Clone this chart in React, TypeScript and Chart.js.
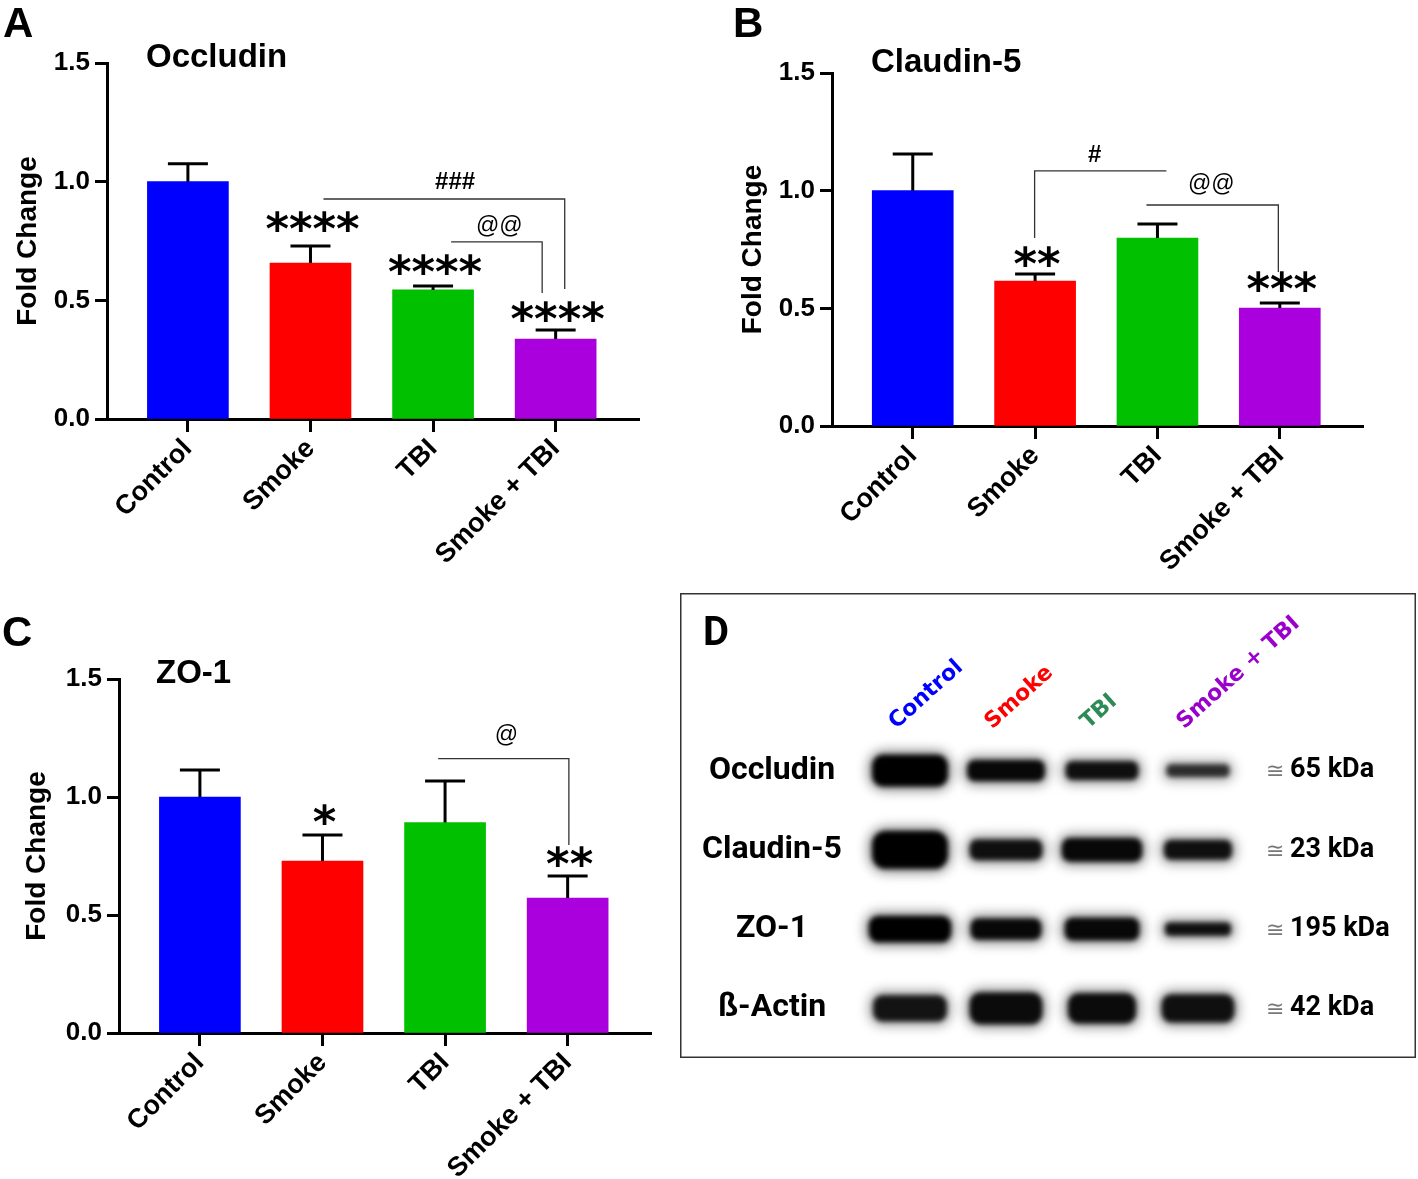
import React, { useEffect, useRef } from 'react';
import { Chart, registerables } from 'chart.js';

Chart.register(...registerables);

const FAMILY = "'Liberation Sans', Arial, sans-serif";

// ---------- shared ----------
const categories = ['Control', 'Smoke', 'TBI', 'Smoke + TBI'];
const barColors = ['#0000FF', '#FF0000', '#00C000', '#AA00DD'];
const yTickValues = [0, 0.5, 1.0, 1.5];

// ---------- Panel A : Occludin ----------
const occludinMean = [1.0, 0.657, 0.544, 0.337];
const occludinSem = [0.075, 0.072, 0.016, 0.038];
const occludinStars = ['', '****', '****', '****'];
const occludinStarLevel = [0, 0.834, 0.649, 0.451];
const occludinBrackets = [
  { text: '###', x1: 1.106, x2: 3.074, y: 0.927, drop1: null, drop2: 0.548, textX: 2.18, textY: 0.999 },
  { text: '@@', x1: 2.147, x2: 2.89, y: 0.746, drop1: null, drop2: 0.531, textX: 2.54, textY: 0.809 },
];

// ---------- Panel B : Claudin-5 ----------
const claudinMean = [1.0, 0.616, 0.799, 0.501];
const claudinSem = [0.156, 0.03, 0.059, 0.022];
const claudinStars = ['', '**', '', '***'];
const claudinStarLevel = [0, 0.722, 0, 0.612];
const claudinBrackets = [
  { text: '#', x1: 0.996, x2: 2.073, y: 1.084, drop1: 0.799, drop2: null, textX: 1.486, textY: 1.152 },
  { text: '@@', x1: 1.91, x2: 2.988, y: 0.939, drop1: null, drop2: 0.654, textX: 2.44, textY: 1.024 },
];

// ---------- Panel C : ZO-1 ----------
const zo1Mean = [1.0, 0.729, 0.892, 0.572];
const zo1Sem = [0.114, 0.11, 0.176, 0.093];
const zo1Stars = ['', '*', '', '**'];
const zo1StarLevel = [0, 0.924, 0, 0.746];
const zo1Brackets = [
  { text: '@', x1: 1.944, x2: 3.01, y: 1.163, drop1: null, drop2: 0.797, textX: 2.5, textY: 1.258 },
];

// ---------- Panel D : western blot ----------
const blotLanes = ['Control', 'Smoke', 'TBI', 'Smoke + TBI'];
const blotLaneColors = ['#0000FF', '#FF0000', '#2E8B57', '#9900CC'];
const blotRows = ['Occludin', 'Claudin-5', 'ZO-1', 'ß-Actin'];
const blotSizes = ['65 kDa', '23 kDa', '195 kDa', '42 kDa'];
const bandWidths = [
  [0.87, 0.89, 0.84, 0.74],
  [0.87, 0.84, 0.92, 0.79],
  [0.94, 0.82, 0.86, 0.77],
  [0.85, 0.84, 0.79, 0.84],
];
const bandHeights = [
  [0.5, 0.37, 0.34, 0.26],
  [0.58, 0.36, 0.4, 0.35],
  [0.43, 0.37, 0.39, 0.27],
  [0.43, 0.5, 0.48, 0.46],
];
const bandIntensity = [
  [1.0, 0.95, 0.9, 0.75],
  [1.0, 0.9, 0.95, 0.9],
  [1.0, 0.95, 0.95, 0.9],
  [0.88, 0.93, 0.93, 0.9],
];

type Bracket = { text: string; x1: number; x2: number; y: number; drop1: number | null; drop2: number | null; textX: number; textY: number };

type PanelProps = {
  left: number; top: number; width: number; height: number;
  area: { l: number; t: number; r: number; b: number };
  mean: number[]; sem: number[]; stars: string[]; starLevel: number[]; brackets: Bracket[];
  titlePad: number; letter: string; letterPos: [number, number]; title: string; titlePos: [number, number];
};

function BarPanel(p: PanelProps) {
  const ref = useRef<HTMLCanvasElement>(null);
  useEffect(() => {
    const annot = {
      id: 'annot',
      afterDatasetsDraw(chart: any) {
        const ctx = chart.ctx;
        const xs = chart.scales.x;
        const ys = chart.scales.y;
        ctx.save();
        // error bars (upper only)
        ctx.strokeStyle = '#000';
        ctx.lineWidth = 3;
        p.mean.forEach((m, i) => {
          const x = xs.getPixelForValue(i);
          const y0 = ys.getPixelForValue(m);
          const y1 = ys.getPixelForValue(m + p.sem[i]);
          ctx.beginPath();
          ctx.moveTo(x, y0);
          ctx.lineTo(x, y1);
          ctx.moveTo(x - 20, y1);
          ctx.lineTo(x + 20, y1);
          ctx.stroke();
        });
        // stars
        ctx.fillStyle = '#000';
        ctx.font = "bold 45px 'DejaVu Sans'";
        ctx.textAlign = 'center';
        ctx.textBaseline = 'alphabetic';
        p.stars.forEach((s, i) => {
          if (!s) return;
          const m = ctx.measureText(s);
          const cy = ys.getPixelForValue(p.starLevel[i]);
          ctx.fillText(s, xs.getPixelForValue(i) + 2, cy + (m.actualBoundingBoxAscent - m.actualBoundingBoxDescent) / 2);
        });
        // brackets
        ctx.strokeStyle = '#333';
        ctx.lineWidth = 1.3;
        p.brackets.forEach((b) => {
          const x1 = xs.getPixelForValue(b.x1);
          const x2 = xs.getPixelForValue(b.x2);
          const y = ys.getPixelForValue(b.y);
          ctx.beginPath();
          if (b.drop1 != null) {
            ctx.moveTo(x1, ys.getPixelForValue(b.drop1));
            ctx.lineTo(x1, y);
          } else {
            ctx.moveTo(x1, y);
          }
          ctx.lineTo(x2, y);
          if (b.drop2 != null) ctx.lineTo(x2, ys.getPixelForValue(b.drop2));
          ctx.stroke();
          ctx.font = b.text.startsWith('#') ? "bold 24px 'Liberation Sans'" : "23px 'Liberation Sans'";
          ctx.textBaseline = 'middle';
          ctx.fillStyle = '#000';
          ctx.fillText(b.text, xs.getPixelForValue(b.textX), ys.getPixelForValue(b.textY));
        });
        ctx.restore();
      },
      afterDraw(chart: any) {
        const ctx = chart.ctx;
        ctx.save();
        ctx.fillStyle = '#000';
        ctx.textAlign = 'left';
        ctx.textBaseline = 'alphabetic';
        ctx.font = "bold 42px 'Liberation Sans'";
        ctx.fillText(p.letter, p.letterPos[0], p.letterPos[1]);
        ctx.font = "bold 33px 'Liberation Sans'";
        ctx.fillText(p.title, p.titlePos[0], p.titlePos[1]);
        ctx.restore();
      },
    };
    const chart = new Chart(ref.current as HTMLCanvasElement, {
      type: 'bar',
      data: {
        datasets: [
          {
            data: p.mean.map((v, i) => ({ x: i, y: v })),
            backgroundColor: barColors,
            borderWidth: 0,
            barThickness: 81,
          } as any,
        ],
      },
      options: {
        responsive: false,
        animation: false,
        layout: { padding: { left: 0, top: p.area.t, right: p.width - p.area.r, bottom: 0 } },
        plugins: { legend: { display: false }, tooltip: { enabled: false } },
        scales: {
          x: {
            type: 'linear',
            min: -0.66,
            max: 3.68,
            offset: false,
            afterBuildTicks: (s: any) => {
              s.ticks = categories.map((_, i) => ({ value: i }));
            },
            afterFit: (s: any) => {
              s.height = p.height - p.area.b;
            },
            ticks: {
              callback: (v: any) => categories[v],
              minRotation: 45,
              maxRotation: 45,
              autoSkip: false,
              color: '#000',
              padding: 1,
              font: { family: FAMILY, size: 27, weight: 'bold' },
            },
            grid: { display: true, offset: false, drawOnChartArea: false, drawTicks: true, tickLength: 13, tickWidth: 3, tickColor: '#000' },
            border: { display: true, width: 3, color: '#000' },
          },
          y: {
            type: 'linear',
            min: 0,
            max: 1.5,
            afterBuildTicks: (s: any) => {
              s.ticks = yTickValues.map((v) => ({ value: v }));
            },
            afterFit: (s: any) => {
              s.width = p.area.l;
            },
            ticks: {
              callback: (v: any) => Number(v).toFixed(1),
              color: '#000',
              padding: 5,
              font: { family: FAMILY, size: 26, weight: 'bold' },
            },
            grid: { display: true, drawOnChartArea: false, drawTicks: true, tickLength: 12, tickWidth: 3, tickColor: '#000' },
            border: { display: true, width: 3, color: '#000' },
            title: {
              display: true,
              text: 'Fold Change',
              color: '#000',
              font: { family: FAMILY, size: 28, weight: 'bold' },
              padding: { top: p.titlePad, bottom: 0 },
            },
          },
        },
      } as any,
      plugins: [annot],
    });
    return () => chart.destroy();
  }, []);
  return (
    <canvas
      ref={ref}
      width={p.width}
      height={p.height}
      style={{ position: 'absolute', left: p.left, top: p.top, width: p.width, height: p.height }}
    />
  );
}

function BlotPanel() {
  const ref = useRef<HTMLCanvasElement>(null);
  const W = 736;
  const H = 465;
  useEffect(() => {
    const blot = {
      id: 'blot',
      afterDraw(chart: any) {
        const ctx = chart.ctx;
        const xs = chart.scales.x;
        const ys = chart.scales.y;
        const stepX = xs.getPixelForValue(1) - xs.getPixelForValue(0);
        const stepY = ys.getPixelForValue(1) - ys.getPixelForValue(0);
        ctx.save();
        // frame
        ctx.strokeStyle = '#333';
        ctx.lineWidth = 1.5;
        ctx.strokeRect(0.75, 0.75, W - 1.5, H - 1.5);
        // bands
        blotRows.forEach((_, r) => {
          blotLanes.forEach((__, l) => {
            const cx = xs.getPixelForValue(l);
            const cy = ys.getPixelForValue(r);
            const w = bandWidths[r][l] * stepX;
            const h = bandHeights[r][l] * stepY;
            const a = bandIntensity[r][l];
            ctx.filter = 'blur(6px)';
            ctx.fillStyle = `rgba(0,0,0,${(a * 0.45).toFixed(3)})`;
            ctx.beginPath();
            ctx.roundRect(cx - w / 2, cy - h / 2, w, h, h / 2.5);
            ctx.fill();
            ctx.filter = 'blur(2.5px)';
            ctx.fillStyle = `rgba(0,0,0,${a.toFixed(3)})`;
            ctx.beginPath();
            ctx.roundRect(cx - w / 2 + 4, cy - h / 2 + 4, w - 8, h - 8, Math.max((h - 8) / 2.8, 1));
            ctx.fill();
          });
        });
        ctx.filter = 'none';
        // panel letter
        ctx.fillStyle = '#000';
        ctx.textAlign = 'left';
        ctx.textBaseline = 'alphabetic';
        ctx.font = 'bold 40px Roboto';
        ctx.fillText('D', 23, 52);
        // row labels
        ctx.font = 'bold 32px Roboto';
        ctx.textAlign = 'center';
        ctx.textBaseline = 'middle';
        blotRows.forEach((name, r) => {
          ctx.fillText(name, 92, ys.getPixelForValue(r));
        });
        // size labels
        blotSizes.forEach((s, r) => {
          const y = ys.getPixelForValue(r);
          ctx.textAlign = 'left';
          ctx.fillStyle = '#777';
          ctx.font = "22px 'DejaVu Sans'";
          ctx.fillText('≅', 586, y + 2);
          ctx.fillStyle = '#000';
          ctx.font = 'bold 27px Roboto';
          ctx.fillText(s, 610, y);
        });
        ctx.restore();
      },
    };
    const points: any[] = [];
    blotRows.forEach((row) => blotLanes.forEach((lane) => points.push({ x: lane, y: row })));
    const chart = new Chart(ref.current as HTMLCanvasElement, {
      type: 'scatter',
      data: {
        datasets: [{ data: points, pointRadius: 0, showLine: false } as any],
      },
      options: {
        responsive: false,
        animation: false,
        layout: { padding: { left: 182, right: W - 566, top: 0, bottom: 10 } },
        plugins: { legend: { display: false }, tooltip: { enabled: false } },
        scales: {
          x: {
            type: 'category',
            labels: blotLanes,
            position: 'top',
            offset: true,
            grid: { display: false },
            border: { display: false },
            afterFit: (s: any) => {
              s.height = 138;
            },
            ticks: {
              color: (c: any) => blotLaneColors[c.index],
              minRotation: 42,
              maxRotation: 42,
              autoSkip: false,
              padding: -12,
              font: { family: "'DejaVu Sans'", size: 22, weight: 'bold' },
            },
          },
          y: {
            type: 'category',
            labels: blotRows,
            offset: true,
            display: false,
          },
        },
      } as any,
      plugins: [blot],
    });
    return () => chart.destroy();
  }, []);
  return (
    <canvas
      ref={ref}
      width={W}
      height={H}
      style={{ position: 'absolute', left: 680, top: 593, width: W, height: H }}
    />
  );
}

export default function App() {
  return (
    <div style={{ position: 'absolute', left: 0, top: 0, width: 1418, height: 1179, background: '#fff', overflow: 'hidden' }}>
      <BarPanel
        left={0} top={0} width={660} height={580}
        area={{ l: 107, t: 63, r: 639, b: 419 }}
        mean={occludinMean} sem={occludinSem} stars={occludinStars} starLevel={occludinStarLevel}
        brackets={occludinBrackets} titlePad={11}
        letter="A" letterPos={[3, 37]} title="Occludin" titlePos={[146, 67]}
      />
      <BarPanel
        left={720} top={0} width={698} height={590}
        area={{ l: 112, t: 73, r: 643, b: 426 }}
        mean={claudinMean} sem={claudinSem} stars={claudinStars} starLevel={claudinStarLevel}
        brackets={claudinBrackets} titlePad={16}
        letter="B" letterPos={[13, 37]} title="Claudin-5" titlePos={[151, 72]}
      />
      <BarPanel
        left={0} top={590} width={670} height={589}
        area={{ l: 119, t: 89, r: 651, b: 443 }}
        mean={zo1Mean} sem={zo1Sem} stars={zo1Stars} starLevel={zo1StarLevel}
        brackets={zo1Brackets} titlePad={20}
        letter="C" letterPos={[2, 56]} title="ZO-1" titlePos={[156, 93]}
      />
      <BlotPanel />
    </div>
  );
}
